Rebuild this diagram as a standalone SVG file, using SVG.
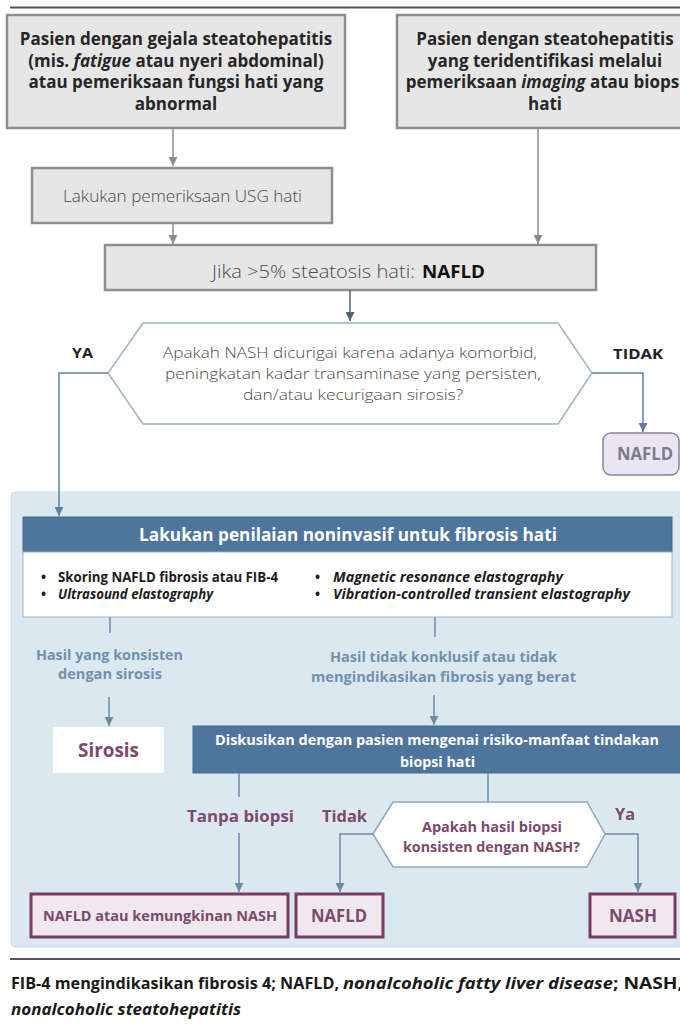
<svg xmlns="http://www.w3.org/2000/svg" width="680" height="1031" viewBox="0 0 680 1031">
<defs>
<style>
text{font-family:"Open Sans","Noto Sans","Liberation Sans",sans-serif;}
.gbox{fill:#e6e6e6;stroke:#8e8e8e;stroke-width:2.5;}
.tb{font-weight:700;font-size:17px;fill:#262626;text-anchor:middle;}
.lt{font-weight:300;fill:#4a4a4a;}
.conn{fill:none;stroke-width:1.5;}
.cg{stroke:#8c8c8c;}
.cd{stroke:#4f5f7c;}
.cb{stroke:#5f7f9f;}
.cp{stroke:#6c8ba8;}
.hdr{fill:#4e759b;stroke:#436a8f;stroke-width:1;}
.wt{fill:#ffffff;font-weight:700;}
.bul{font-weight:700;font-size:13.5px;fill:#1c1c1c;}
.pl{font-weight:700;font-size:14px;fill:#7090ad;}
.mr{font-weight:700;fill:#7b4a6c;}
.obox{fill:#efe9ef;stroke:#7a3a62;stroke-width:3;}
.ft{font-weight:700;font-size:16px;fill:#1a1a1a;}
</style>
<marker id="ag" viewBox="0 0 10 10" refX="10" refY="5" markerWidth="9" markerHeight="9" markerUnits="userSpaceOnUse" orient="auto"><path d="M0,0 L10,5 L0,10 z" fill="#8c8c8c"/></marker>
<marker id="ad" viewBox="0 0 10 10" refX="10" refY="5" markerWidth="9" markerHeight="9" markerUnits="userSpaceOnUse" orient="auto"><path d="M0,0 L10,5 L0,10 z" fill="#4f5f7c"/></marker>
<marker id="ab" viewBox="0 0 10 10" refX="10" refY="5" markerWidth="9" markerHeight="9" markerUnits="userSpaceOnUse" orient="auto"><path d="M0,0 L10,5 L0,10 z" fill="#5f7f9f"/></marker>
<marker id="ap" viewBox="0 0 10 10" refX="10" refY="5" markerWidth="9" markerHeight="9" markerUnits="userSpaceOnUse" orient="auto"><path d="M0,0 L10,5 L0,10 z" fill="#6c8ba8"/></marker>
</defs>
<rect width="680" height="1031" fill="#ffffff"/>
<line x1="10" y1="7.5" x2="680" y2="7.5" stroke="#555" stroke-width="2"/>

<g id="panel">
<rect x="11" y="492" width="673" height="455" rx="4" fill="#dce8ef" stroke="#cddde8" stroke-width="1"/>
</g>

<g id="box1">
<rect class="gbox" x="7" y="15" width="338" height="113"/>
<text class="tb" x="176" y="45">Pasien dengan gejala steatohepatitis</text>
<text class="tb" x="176" y="66.5">(mis. <tspan font-style="italic">fatigue</tspan> atau nyeri abdominal)</text>
<text class="tb" x="176" y="88">atau pemeriksaan fungsi hati yang</text>
<text class="tb" x="176" y="109.5">abnormal</text>
</g>

<g id="box2">
<rect class="gbox" x="397" y="15" width="295" height="113"/>
<text class="tb" x="545" y="45">Pasien dengan steatohepatitis</text>
<text class="tb" x="545" y="66.5">yang teridentifikasi melalui</text>
<text class="tb" x="545" y="88">pemeriksaan <tspan font-style="italic">imaging</tspan> atau biopsi</text>
<text class="tb" x="545" y="109.5">hati</text>
</g>

<g id="usg">
<rect class="gbox" x="32" y="168" width="300" height="55"/>
<text class="lt" x="63" y="202" font-size="16" fill="#5a5a5a" textLength="239" lengthAdjust="spacingAndGlyphs">Lakukan pemeriksaan USG hati</text>
</g>

<g id="jika">
<rect class="gbox" x="105" y="245" width="491" height="45"/>
<text class="lt" x="212" y="278" font-size="17.5" fill="#333" textLength="203" lengthAdjust="spacingAndGlyphs">Jika &gt;5% steatosis hati:</text>
<text x="422" y="278" font-size="17.5" font-weight="700" fill="#111" textLength="63" lengthAdjust="spacingAndGlyphs">NAFLD</text>
</g>

<g id="hex1">
<polygon points="143,323 558,323 592,373 558,424 143,424 108,373" fill="#ffffff" stroke="#9fb3c6" stroke-width="1.5"/>
<text class="lt" x="163" y="358" font-size="15" textLength="374" lengthAdjust="spacingAndGlyphs">Apakah NASH dicurigai karena adanya komorbid,</text>
<text class="lt" x="165" y="379" font-size="15" textLength="376" lengthAdjust="spacingAndGlyphs">peningkatan kadar transaminase yang persisten,</text>
<text class="lt" x="243" y="400" font-size="15" textLength="220" lengthAdjust="spacingAndGlyphs">dan/atau kecurigaan sirosis?</text>
</g>

<g id="labels-top">
<text x="72" y="358" font-size="15" font-weight="700" fill="#222" textLength="21" lengthAdjust="spacingAndGlyphs">YA</text>
<text x="613" y="359" font-size="15" font-weight="700" fill="#222" textLength="50" lengthAdjust="spacingAndGlyphs">TIDAK</text>
</g>

<g id="nafld-pill">
<rect x="603" y="433" width="76" height="42" rx="8" fill="#e9e6f2" stroke="#8b849b" stroke-width="1.5"/>
<text x="617" y="460" font-size="17" font-weight="700" fill="#7b7b8d" textLength="56" lengthAdjust="spacingAndGlyphs">NAFLD</text>
</g>

<g id="noninvasif">
<rect class="hdr" x="23" y="517" width="649" height="35"/>
<text class="wt" x="139" y="541" font-size="17" textLength="418" lengthAdjust="spacingAndGlyphs">Lakukan penilaian noninvasif untuk fibrosis hati</text>
<rect x="23" y="552" width="649" height="65" fill="#ffffff" stroke="#9db4c8" stroke-width="1"/>
<text class="bul" x="41" y="582">•</text>
<text class="bul" x="58" y="582" textLength="220" lengthAdjust="spacingAndGlyphs">Skoring NAFLD fibrosis atau FIB-4</text>
<text class="bul" x="41" y="599">•</text>
<text class="bul" x="58" y="599" font-style="italic" textLength="155" lengthAdjust="spacingAndGlyphs">Ultrasound elastography</text>
<text class="bul" x="315" y="582">•</text>
<text class="bul" x="333" y="582" font-style="italic" textLength="230" lengthAdjust="spacingAndGlyphs">Magnetic resonance elastography</text>
<text class="bul" x="315" y="599">•</text>
<text class="bul" x="333" y="599" font-style="italic" textLength="297" lengthAdjust="spacingAndGlyphs">Vibration-controlled transient elastography</text>
</g>

<g id="hasil-labels">
<text class="pl" x="36" y="660" textLength="147" lengthAdjust="spacingAndGlyphs">Hasil yang konsisten</text>
<text class="pl" x="58" y="679" textLength="104" lengthAdjust="spacingAndGlyphs">dengan sirosis</text>
<text class="pl" x="330" y="662" textLength="227" lengthAdjust="spacingAndGlyphs">Hasil tidak konklusif atau tidak</text>
<text class="pl" x="311" y="682" textLength="265" lengthAdjust="spacingAndGlyphs">mengindikasikan fibrosis yang berat</text>
</g>

<g id="sirosis">
<rect x="53" y="727" width="111" height="46" fill="#ffffff"/>
<text class="mr" x="78" y="757" font-size="19" fill="#874b6c" textLength="61" lengthAdjust="spacingAndGlyphs">Sirosis</text>
</g>

<g id="diskusikan">
<rect class="hdr" x="193" y="726" width="492" height="47"/>
<text class="wt" x="215" y="745" font-size="15" textLength="444" lengthAdjust="spacingAndGlyphs">Diskusikan dengan pasien mengenai risiko-manfaat tindakan</text>
<text class="wt" x="400" y="767" font-size="15" textLength="75" lengthAdjust="spacingAndGlyphs">biopsi hati</text>
</g>

<g id="branch-labels">
<text class="mr" x="187" y="822" font-size="16.5" textLength="107" lengthAdjust="spacingAndGlyphs">Tanpa biopsi</text>
<text class="mr" x="322" y="822" font-size="16.5" textLength="45" lengthAdjust="spacingAndGlyphs">Tidak</text>
<text class="mr" x="615" y="820" font-size="16.5" textLength="20" lengthAdjust="spacingAndGlyphs">Ya</text>
</g>

<g id="hex2">
<polygon points="393,802 587,802 605,834 587,867 393,867 373,834" fill="#ffffff" stroke="#8ea6bc" stroke-width="1.5"/>
<text class="mr" x="422" y="832" font-size="14" textLength="140" lengthAdjust="spacingAndGlyphs">Apakah hasil biopsi</text>
<text class="mr" x="403" y="852" font-size="14" textLength="177" lengthAdjust="spacingAndGlyphs">konsisten dengan NASH?</text>
</g>

<g id="out1">
<rect class="obox" x="31" y="894" width="257" height="43"/>
<text class="mr" x="43" y="921" font-size="15" textLength="234" lengthAdjust="spacingAndGlyphs">NAFLD atau kemungkinan NASH</text>
</g>
<g id="out2">
<rect class="obox" x="296" y="894" width="87" height="43"/>
<text class="mr" x="311" y="922" font-size="17" textLength="56" lengthAdjust="spacingAndGlyphs">NAFLD</text>
</g>
<g id="out3">
<rect class="obox" x="590" y="894" width="85" height="43"/>
<text class="mr" x="609" y="922" font-size="17" textLength="48" lengthAdjust="spacingAndGlyphs">NASH</text>
</g>

<g id="connectors">
<line class="conn cg" x1="173" y1="128" x2="173" y2="166" marker-end="url(#ag)"/>
<line class="conn cg" x1="173" y1="223" x2="173" y2="244" marker-end="url(#ag)"/>
<line class="conn cg" x1="538" y1="128" x2="538" y2="244" marker-end="url(#ag)"/>
<line class="conn cd" x1="350" y1="290" x2="350" y2="321" marker-end="url(#ad)"/>
<polyline class="conn cb" points="108,373 59,373 59,516" marker-end="url(#ab)"/>
<polyline class="conn cb" points="592,373 643,373 643,432" marker-end="url(#ab)"/>
<line class="conn cp" x1="110" y1="617" x2="110" y2="633"/>
<line class="conn cp" x1="109" y1="697" x2="109" y2="726" marker-end="url(#ap)"/>
<line class="conn cp" x1="435" y1="617" x2="435" y2="637"/>
<line class="conn cp" x1="434" y1="695" x2="434" y2="725" marker-end="url(#ap)"/>
<line class="conn cp" x1="239" y1="773" x2="239" y2="797"/>
<line class="conn cp" x1="239" y1="833" x2="239" y2="892" marker-end="url(#ap)"/>
<line class="conn cp" x1="488" y1="773" x2="488" y2="802"/>
<polyline class="conn cp" points="373,834 340,834 340,892" marker-end="url(#ap)"/>
<polyline class="conn cp" points="605,834 638,834 638,892" marker-end="url(#ap)"/>
</g>

<line x1="10" y1="959" x2="680" y2="959" stroke="#555" stroke-width="2"/>
<g id="footer">
<text class="ft" x="11" y="989" textLength="328" lengthAdjust="spacingAndGlyphs">FIB-4 mengindikasikan fibrosis 4; NAFLD,</text>
<text class="ft" x="343" y="989" font-style="italic" textLength="270" lengthAdjust="spacingAndGlyphs">nonalcoholic fatty liver disease</text>
<text class="ft" x="613" y="989" textLength="70" lengthAdjust="spacingAndGlyphs">; NASH,</text>
<text class="ft" x="11" y="1015" font-style="italic" textLength="230" lengthAdjust="spacingAndGlyphs">nonalcoholic steatohepatitis</text>
</g>
</svg>
